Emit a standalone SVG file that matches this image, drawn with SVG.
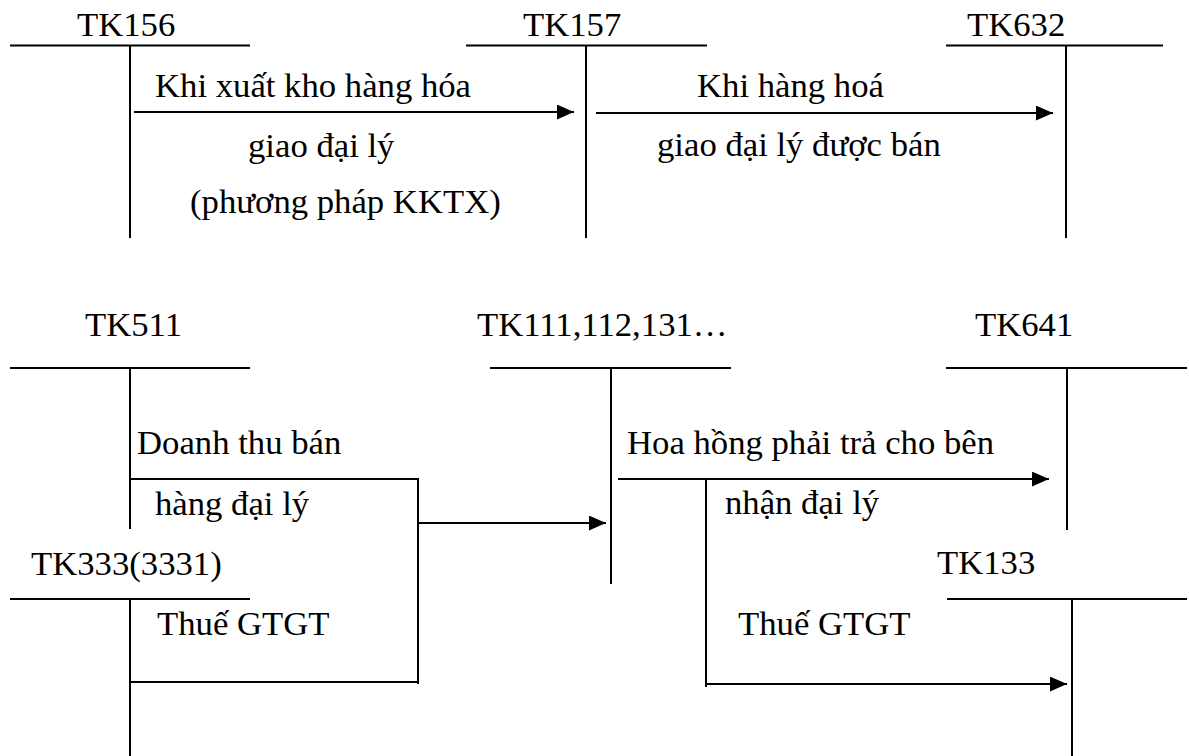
<svg xmlns="http://www.w3.org/2000/svg" width="1189" height="756" viewBox="0 0 1189 756">
  <style>
    text { font-family: "Liberation Serif", "Times New Roman", serif; font-size: 34.7px; fill: #000; }
    .ln { stroke: #000; stroke-width: 2; fill: none; }
    .arr { stroke: #000; stroke-width: 2.2; fill: none; marker-end: url(#head); }
  </style>
  <defs>
    <marker id="head" viewBox="0 0 16 14" refX="16" refY="7" markerWidth="17" markerHeight="15" markerUnits="userSpaceOnUse" orient="auto">
      <path d="M0,0 L16,7 L0,14 z" fill="#000"/>
    </marker>
  </defs>
  <rect width="1189" height="756" fill="#fff"/>

  <!-- T-accounts -->
  <g id="tk156">
    <text x="77" y="36">TK156</text>
    <path class="ln" d="M10,45.5 H250 M130,45.5 V238"/>
  </g>
  <g id="tk157">
    <text x="523" y="36">TK157</text>
    <path class="ln" d="M466,45.5 H707 M586,45.5 V238"/>
  </g>
  <g id="tk632">
    <text x="967" y="36">TK632</text>
    <path class="ln" d="M946,45.5 H1163 M1066,45.5 V238"/>
  </g>
  <g id="tk511">
    <text x="85" y="336">TK511</text>
    <path class="ln" d="M10,368 H250 M130,368 V529"/>
  </g>
  <g id="tk111">
    <text x="477" y="336">TK111,112,131…</text>
    <path class="ln" d="M490,368 H731 M611,368 V584"/>
  </g>
  <g id="tk641">
    <text x="975" y="336">TK641</text>
    <path class="ln" d="M946,368 H1187 M1067,368 V530"/>
  </g>
  <g id="tk3331">
    <text x="31" y="575">TK333(3331)</text>
    <path class="ln" d="M10,599 H250 M130,599 V756"/>
  </g>
  <g id="tk133">
    <text x="937" y="574">TK133</text>
    <path class="ln" d="M947,599 H1187 M1072,599 V756"/>
  </g>

  <!-- Connectors -->
  <g id="connectors">
    <path class="arr" d="M134,112 H574"/>
    <path class="arr" d="M596,113 H1053"/>
    <path class="ln" d="M130,479 H418 V684 M130,682 H418"/>
    <path class="arr" d="M418,523 H606"/>
    <path class="arr" d="M618,479 H1049"/>
    <path class="ln" d="M706,479 V687"/>
    <path class="arr" d="M706,684 H1067"/>
  </g>

  <!-- Entry labels -->
  <g id="labels">
    <text x="155" y="97">Khi xuất kho hàng hóa</text>
    <text x="248" y="157">giao đại lý</text>
    <text x="190" y="213">(phương pháp KKTX)</text>
    <text x="697" y="97">Khi hàng hoá</text>
    <text x="657" y="156">giao đại lý được bán</text>
    <text x="137" y="454">Doanh thu bán</text>
    <text x="155" y="515">hàng đại lý</text>
    <text x="157" y="635">Thuế GTGT</text>
    <text x="627" y="454">Hoa hồng phải trả cho bên</text>
    <text x="725" y="514">nhận đại lý</text>
    <text x="738" y="635">Thuế GTGT</text>
  </g>
</svg>
